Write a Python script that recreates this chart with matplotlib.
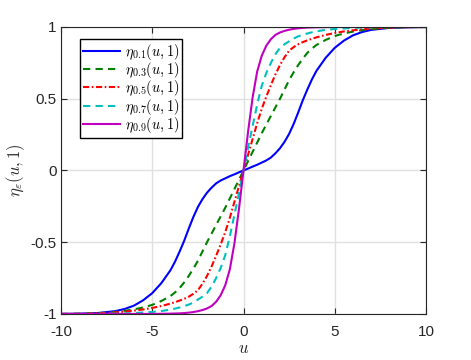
import matplotlib
matplotlib.use("Agg")
import matplotlib.pyplot as plt

plt.rcParams['mathtext.fontset'] = 'cm'
plt.rcParams['font.family'] = ['Liberation Sans', 'DejaVu Sans']

u = [-10, -9, -8, -7, -6.5, -6, -5.5, -5, -4.5, -4, -3.75, -3.5, -3.25, -3, -2.75, -2.5, -2.25, -2,
     -1.75, -1.5, -1.25, -1, -0.75, -0.5, -0.25,
     0, 0.25, 0.5, 0.75, 1, 1.25, 1.5, 1.75, 2, 2.25, 2.5, 2.75, 3, 3.25, 3.5, 3.75, 4,
     4.5, 5, 5.5, 6, 6.5, 7, 8, 9, 10]

eta_01 = [-1.0, -0.998, -0.994, -0.98, -0.965, -0.942, -0.905, -0.855, -0.785, -0.695, -0.635, -0.565, -0.49,
          -0.405, -0.325, -0.255, -0.2, -0.155, -0.12, -0.09, -0.07, -0.055, -0.04, -0.027, -0.013,
          0, 0.013, 0.027, 0.04, 0.055, 0.07, 0.09, 0.12, 0.155, 0.2, 0.255, 0.325, 0.405, 0.49, 0.565,
          0.635, 0.695, 0.785, 0.855, 0.905, 0.942, 0.965, 0.98, 0.994, 0.998, 1.0]
eta_03 = [-1.0, -0.999, -0.995, -0.986, -0.978, -0.968, -0.955, -0.937, -0.91, -0.875, -0.85, -0.82, -0.78,
          -0.735, -0.685, -0.63, -0.565, -0.5, -0.44, -0.38, -0.32, -0.26, -0.195, -0.13, -0.065,
          0, 0.065, 0.13, 0.195, 0.26, 0.32, 0.38, 0.44, 0.5, 0.565, 0.63, 0.685, 0.735, 0.78, 0.82,
          0.85, 0.875, 0.91, 0.937, 0.955, 0.968, 0.978, 0.986, 0.995, 0.999, 1.0]
eta_05 = [-1.0, -0.999, -0.996, -0.989, -0.984, -0.977, -0.969, -0.958, -0.945, -0.928, -0.918, -0.907, -0.895,
          -0.88, -0.86, -0.835, -0.79, -0.735, -0.67, -0.595, -0.515, -0.43, -0.33, -0.22, -0.11,
          0, 0.11, 0.22, 0.33, 0.43, 0.515, 0.595, 0.67, 0.735, 0.79, 0.835, 0.86, 0.88, 0.895, 0.907,
          0.918, 0.928, 0.945, 0.958, 0.969, 0.977, 0.984, 0.989, 0.996, 0.999, 1.0]
eta_07 = [-1.0, -1.0, -1.0, -0.998, -0.996, -0.994, -0.99, -0.986, -0.98, -0.97, -0.963, -0.955, -0.946,
          -0.935, -0.92, -0.9, -0.88, -0.855, -0.81, -0.75, -0.68, -0.59, -0.46, -0.31, -0.16,
          0, 0.16, 0.31, 0.46, 0.59, 0.68, 0.75, 0.81, 0.855, 0.88, 0.9, 0.92, 0.935, 0.946, 0.955,
          0.963, 0.97, 0.98, 0.986, 0.99, 0.994, 0.996, 0.998, 1.0, 1.0, 1.0]
eta_09 = [-1.0, -1.0, -1.0, -1.0, -1.0, -1.0, -1.0, -1.0, -0.999, -0.998, -0.997, -0.996, -0.994,
          -0.991, -0.987, -0.981, -0.973, -0.962, -0.945, -0.915, -0.87, -0.8, -0.69, -0.51, -0.27,
          0, 0.27, 0.51, 0.69, 0.8, 0.87, 0.915, 0.945, 0.962, 0.973, 0.981, 0.987, 0.991, 0.994, 0.996,
          0.997, 0.998, 0.999, 1.0, 1.0, 1.0, 1.0, 1.0, 1.0, 1.0, 1.0]

labels = [r'$\eta_{0.1}(u,1)$', r'$\eta_{0.3}(u,1)$', r'$\eta_{0.5}(u,1)$', r'$\eta_{0.7}(u,1)$', r'$\eta_{0.9}(u,1)$']
xticks = [-10, -5, 0, 5, 10]
yticks = [-1, -0.5, 0, 0.5, 1]
yticklabels = ['-1', '-0.5', '0', '0.5', '1']
xticklabels = ['-10', '-5', '0', '5', '10']

fig = plt.figure(figsize=(4.71, 3.6), dpi=100)
ax = fig.add_axes([0.1295, 0.128, 0.775, 0.797])

series = [eta_01, eta_03, eta_05, eta_07, eta_09]
colors = ['#0000ff', '#008000', '#ff0000', '#00bfbf', '#bf00bf']
styles = ['-', (0, (3.5, 2.5)), (0, (3, 1.2, 0.8, 1.2)), (0, (3.5, 2.5)), '-']
for y, c, s, lab in zip(series, colors, styles, labels):
    ax.plot(u, y, color=c, linestyle=s, linewidth=1.5, label=lab)

ax.set_xlim(-10, 10)
ax.set_ylim(-1, 1)
ax.set_xticks(xticks)
ax.set_xticklabels(xticklabels)
ax.set_yticks(yticks)
ax.set_yticklabels(yticklabels)
ax.grid(True, color='#e0e0e0', linewidth=1.0)
ax.set_axisbelow(True)
ax.tick_params(direction='in', top=True, right=True, length=4, width=0.8,
               colors='#262626', labelsize=11, labelcolor='#262626')
ax.tick_params(axis='x', pad=8)
ax.tick_params(axis='y', pad=3)
for sp in ax.spines.values():
    sp.set_color('#262626')
    sp.set_linewidth(0.8)

ax.set_xlabel(r'$u$', fontsize=12, color='#262626', labelpad=1.5)
ax.set_ylabel(r'$\eta_\varepsilon(u,1)$', fontsize=12, color='#262626', labelpad=3)

leg = ax.legend(loc='upper left', bbox_to_anchor=(0.052, 0.958), fontsize=10.4,
                frameon=True, fancybox=False, framealpha=1, edgecolor='black',
                borderpad=0.2, labelspacing=-0.12, handlelength=2.6, handletextpad=0.3,
                borderaxespad=0)
leg.get_frame().set_linewidth(1.0)

fig.savefig('out.png', dpi=100)
